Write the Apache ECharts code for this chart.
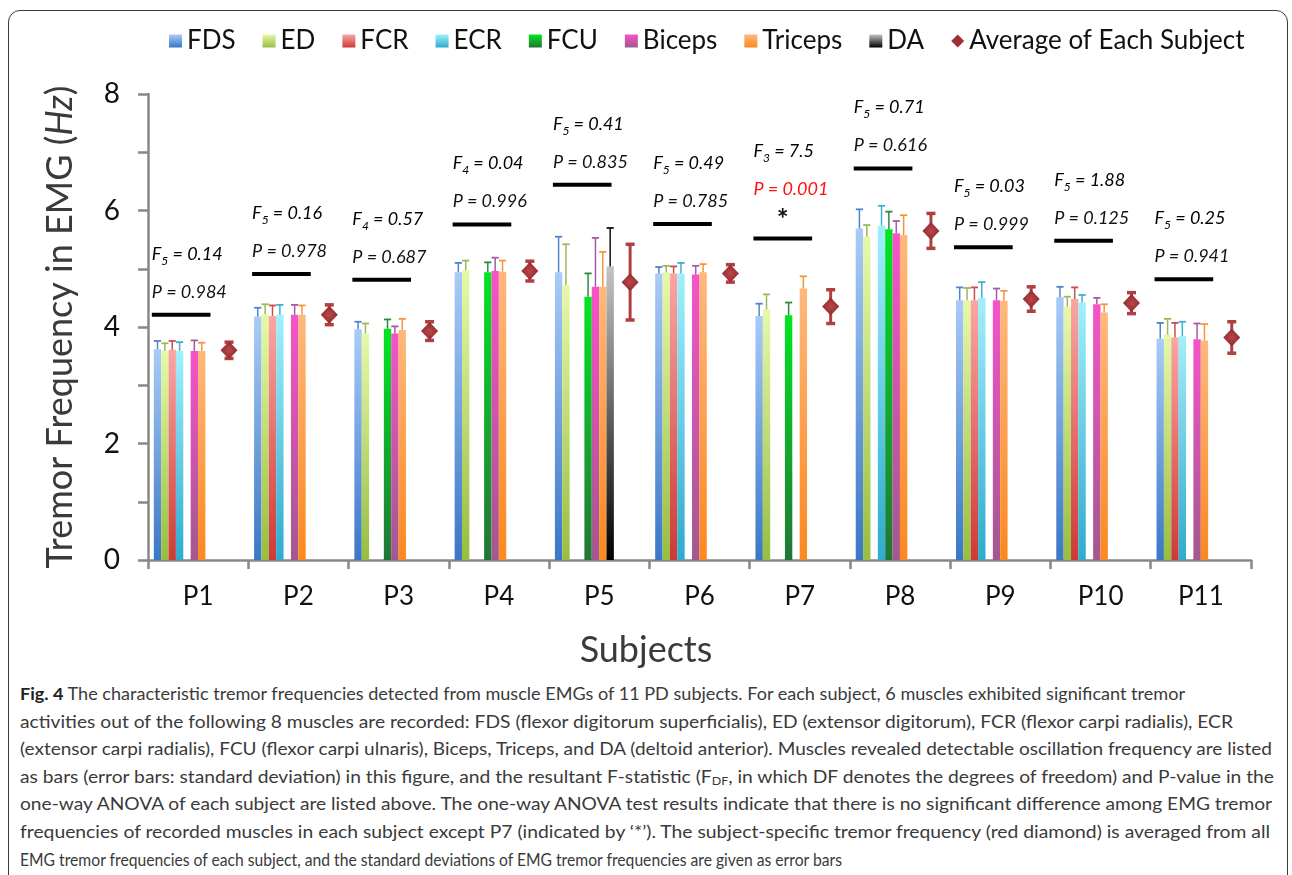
<!DOCTYPE html>
<html>
<head>
<meta charset="utf-8">
<script src="https://cdn.jsdelivr.net/npm/echarts@6/dist/echarts.min.js"></script>
<style>
  html, body { margin: 0; padding: 0; background: #fff; }
  body { width: 1292px; height: 875px; position: relative; overflow: hidden; }
  #card { position: absolute; left: 8px; top: 10px; width: 1280px; height: 920px;
          border: 1.5px solid #3a3a3a; border-radius: 12px; box-sizing: border-box; }
  #chart { position: absolute; left: 0; top: 0; width: 1292px; height: 670px; }
  #cap { position: absolute; left: 20px; top: 680px; font-family: "Liberation Sans Narrow", Lato, sans-serif;
         font-size: 17px; line-height: 27.6px; color: #3a3a3a; }
  #cap div { white-space: nowrap; transform-origin: 0 50%; }
  #cap b { color: #222; }
  #cap sub { font-size: 11px; vertical-align: -2px; line-height: 0; }
</style>
</head>
<body>
<div id="card"></div>
<div id="chart"></div>
<div id="cap">
  <div data-w="1165"><b>Fig. 4</b> The characteristic tremor frequencies detected from muscle EMGs of 11 PD subjects. For each subject, 6 muscles exhibited significant tremor</div>
  <div data-w="1213">activities out of the following 8 muscles are recorded: FDS (flexor digitorum superficialis), ED (extensor digitorum), FCR (flexor carpi radialis), ECR</div>
  <div data-w="1252">(extensor carpi radialis), FCU (flexor carpi ulnaris), Biceps, Triceps, and DA (deltoid anterior). Muscles revealed detectable oscillation frequency are listed</div>
  <div data-w="1254">as bars (error bars: standard deviation) in this figure, and the resultant F-statistic (F<sub>DF</sub>, in which DF denotes the degrees of freedom) and P-value in the</div>
  <div data-w="1252">one-way ANOVA of each subject are listed above. The one-way ANOVA test results indicate that there is no significant difference among EMG tremor</div>
  <div data-w="1250">frequencies of recorded muscles in each subject except P7 (indicated by ‘*’). The subject-specific tremor frequency (red diamond) is averaged from all</div>
  <div data-w="822">EMG tremor frequencies of each subject, and the standard deviations of EMG tremor frequencies are given as error bars</div>
</div>
<script>
// ---- data -------------------------------------------------------------
const subjects = ['P1', 'P2', 'P3', 'P4', 'P5', 'P6', 'P7', 'P8', 'P9', 'P10', 'P11'];
const muscles = ['FDS', 'ED', 'FCR', 'ECR', 'FCU', 'Biceps', 'Triceps', 'DA'];

// mean tremor frequency (Hz) per muscle, null = not detected
const meanFDS     = [3.62, 4.18, 3.96, 4.94, 4.94, 4.92, 4.19, 5.69, 4.46, 4.51, 3.80];
const meanED      = [3.59, 4.22, 3.89, 4.97, 4.72, 4.94, 4.30, 5.55, 4.46, 4.35, 3.87];
const meanFCR     = [3.61, 4.19, null, null, null, 4.92, null, null, 4.46, 4.48, 3.82];
const meanECR     = [3.59, 4.21, null, null, null, 4.92, null, 5.74, 4.50, 4.42, 3.84];
const meanFCU     = [null, null, 3.97, 4.94, 4.52, null, 4.20, 5.68, null, null, null];
const meanBiceps  = [3.59, 4.21, 3.89, 4.96, 4.69, 4.90, null, 5.61, 4.46, 4.39, 3.79];
const meanTriceps = [3.59, 4.21, 3.95, 4.95, 4.69, 4.94, 4.66, 5.58, 4.45, 4.25, 3.77];
const meanDA      = [null, null, null, null, 5.04, null, null, null, null, null, null];

// standard deviations (Hz)
const sdFDS     = [0.14, 0.15, 0.13, 0.16, 0.61, 0.11, 0.21, 0.33, 0.22, 0.18, 0.27];
const sdED      = [0.13, 0.17, 0.17, 0.17, 0.70, 0.11, 0.26, 0.20, 0.21, 0.17, 0.27];
const sdFCR     = [0.15, 0.18, null, null, null, 0.12, null, null, 0.22, 0.20, 0.25];
const sdECR     = [0.15, 0.17, null, null, null, 0.18, null, 0.34, 0.27, 0.13, 0.25];
const sdFCU     = [null, null, 0.16, 0.17, 0.40, null, 0.22, 0.30, null, null, null];
const sdBiceps  = [0.18, 0.17, 0.12, 0.23, 0.84, 0.15, null, 0.21, 0.20, 0.11, 0.27];
const sdTriceps = [0.14, 0.16, 0.19, 0.19, 0.60, 0.14, 0.21, 0.34, 0.17, 0.14, 0.28];
const sdDA      = [null, null, null, null, 0.66, null, null, null, null, null, null];

// subject-specific frequency and its spread
const subjectAvg = [3.60, 4.21, 3.93, 4.96, 4.77, 4.92, 4.35, 5.65, 4.48, 4.41, 3.82];
const subjectSd  = [0.14, 0.17, 0.16, 0.17, 0.65, 0.15, 0.29, 0.30, 0.21, 0.18, 0.27];

// one-way ANOVA per subject
const anovaDf = [5, 5, 4, 4, 5, 5, 3, 5, 5, 5, 5];
const anovaF  = ['0.14', '0.16', '0.57', '0.04', '0.41', '0.49', '7.5', '0.71', '0.03', '1.88', '0.25'];
const anovaP  = ['0.984', '0.978', '0.687', '0.996', '0.835', '0.785', '0.001', '0.616', '0.999', '0.125', '0.941'];
// height (Hz) of the bracket line drawn over each subject's group
const bracketLevel = [4.21, 4.91, 4.81, 5.76, 6.44, 5.77, 5.52, 6.72, 5.37, 5.48, 4.82];

const yTicks = [0, 2, 4, 6, 8];

// ---- styling ----------------------------------------------------------
const FONT = 'Lato, "Open Sans", sans-serif';
const means = [meanFDS, meanED, meanFCR, meanECR, meanFCU, meanBiceps, meanTriceps, meanDA];
const sds = [sdFDS, sdED, sdFCR, sdECR, sdFCU, sdBiceps, sdTriceps, sdDA];
const barTop    = ['#a9cbf8', '#e6f9ab', '#faa6a3', '#a2effc', '#00e620', '#f653c8', '#ffb87c', '#c4c4c4'];
const barBottom = ['#3a77c6', '#98bd40', '#cd3a37', '#2eabcd', '#237436', '#a2588f', '#fc8820', '#000000'];
const capColor  = ['#4e84cf', '#9ab959', '#c84f4c', '#3eafcf', '#2c8a3b', '#a65a9f', '#f7953e', '#111111'];

const SLOT = 0.0735;      // width of one muscle slot, fraction of category width
const FIRST = 0.058;      // offset of first slot from category start
const AVG_POS = 0.808;    // diamond position inside the category

function grad(k) {
  return new echarts.graphic.LinearGradient(0, 0, 0, 1, [
    { offset: 0, color: barTop[k] }, { offset: 1, color: barBottom[k] }
  ]);
}

function muscleSeries(k) {
  const data = [];
  means[k].forEach((v, i) => { if (v !== null) data.push([i, v, sds[k][i]]); });
  return {
    type: 'custom',
    name: muscles[k],
    itemStyle: { color: grad(k) },
    data: data,
    encode: { x: 0, y: 1 },
    renderItem: function (params, api) {
      const idx = api.value(0), v = api.value(1), sd = api.value(2);
      const cw = api.size([1, 0])[0];
      const base = api.coord([idx, 0]);
      const top = api.coord([idx, v]);
      const err = api.coord([idx, v + sd]);
      const w = cw * SLOT;
      const x0 = base[0] - cw / 2 + cw * FIRST + k * w;
      const cx = x0 + w / 2;
      return {
        type: 'group',
        children: [
          { type: 'rect', shape: { x: x0, y: top[1], width: w, height: base[1] - top[1] },
            style: { fill: grad(k) } },
          { type: 'line', shape: { x1: cx, y1: top[1], x2: cx, y2: err[1] },
            style: { stroke: capColor[k], lineWidth: 1.5 } },
          { type: 'line', shape: { x1: cx - 3.6, y1: err[1], x2: cx + 3.6, y2: err[1] },
            style: { stroke: capColor[k], lineWidth: 1.8 } }
        ]
      };
    }
  };
}

const avgSeries = {
  type: 'custom',
  name: 'Average of Each Subject',
  itemStyle: { color: '#9e3034' },
  data: subjectAvg.map((v, i) => [i, v, subjectSd[i]]),
  encode: { x: 0, y: 1 },
  z: 5,
  renderItem: function (params, api) {
    const idx = api.value(0), v = api.value(1), sd = api.value(2);
    const cw = api.size([1, 0])[0];
    const c = api.coord([idx, v]);
    const hi = api.coord([idx, v + sd]);
    const lo = api.coord([idx, v - sd]);
    const x = c[0] - cw / 2 + cw * AVG_POS;
    const ec = '#b23f3f';
    return {
      type: 'group',
      children: [
        { type: 'line', shape: { x1: x, y1: hi[1], x2: x, y2: lo[1] }, style: { stroke: ec, lineWidth: 3 } },
        { type: 'line', shape: { x1: x - 4.5, y1: hi[1], x2: x + 4.5, y2: hi[1] }, style: { stroke: ec, lineWidth: 3.5 } },
        { type: 'line', shape: { x1: x - 4.5, y1: lo[1], x2: x + 4.5, y2: lo[1] }, style: { stroke: ec, lineWidth: 3.5 } },
        { type: 'polygon', shape: { points: [[x, c[1] - 9], [x + 8.5, c[1]], [x, c[1] + 9], [x - 8.5, c[1]]] },
          style: { fill: new echarts.graphic.RadialGradient(0.5, 0.5, 0.6, [
            { offset: 0, color: '#b8474a' }, { offset: 1, color: '#8e2629' }]) } }
      ]
    };
  }
};

const statSeries = {
  type: 'custom',
  name: 'anova',
  silent: true,
  data: bracketLevel.map((v, i) => [i, v]),
  encode: { x: 0, y: 1 },
  z: 6,
  renderItem: function (params, api) {
    const i = params.dataIndex;
    const idx = api.value(0), lvl = api.value(1);
    const cw = api.size([1, 0])[0];
    const c = api.coord([idx, lvl]);
    const x0 = c[0] - cw / 2 + cw * FIRST - 2;
    const len = cw * 0.585;
    const sig = parseFloat(anovaP[i]) < 0.05;
    const shift = sig ? 26 : 0;
    const children = [
      { type: 'rect', shape: { x: x0, y: c[1] - 2, width: len, height: 4 }, style: { fill: '#000' } },
      { type: 'text', x: x0, y: c[1] - 23 - shift,
        style: { text: 'P = ' + anovaP[i], fill: sig ? '#ff1010' : '#111',
                 font: 'italic 18px ' + FONT, verticalAlign: 'middle', align: 'left' } },
      { type: 'text', x: x0, y: c[1] - 61 - shift,
        style: { text: '{a|F}{b|' + anovaDf[i] + '}{a| = ' + anovaF[i] + '}',
                 verticalAlign: 'middle', align: 'left',
                 rich: {
                   a: { fontSize: 18, fontStyle: 'italic', fontFamily: FONT, color: '#111', lineHeight: 26, verticalAlign: 'middle' },
                   b: { fontSize: 12, fontStyle: 'italic', fontFamily: FONT, color: '#111', verticalAlign: 'bottom' }
                 } } }
    ];
    if (sig) {
      children.push({ type: 'text', x: x0 + len / 2, y: c[1] - 18,
        style: { text: '*', fill: '#111', font: 'bold 28px ' + FONT, align: 'center', verticalAlign: 'middle' } });
    }
    return { type: 'group', children: children };
  }
};

const chart = echarts.init(document.getElementById('chart'), null, { renderer: 'canvas' });
chart.setOption({
  backgroundColor: 'transparent',
  animation: false,
  textStyle: { fontFamily: FONT },
  legend: {
    top: 23,
    left: 164,
    itemWidth: 13,
    itemHeight: 13,
    itemGap: 27,
    textStyle: { fontSize: 26, color: '#111', fontFamily: FONT },
    data: muscles.map(m => ({ name: m, icon: 'rect' })).concat([{ name: 'Average of Each Subject', icon: 'diamond' }])
  },
  grid: { left: 148, right: 41, top: 94, bottom: 670 - 560 },
  xAxis: {
    type: 'category',
    data: subjects,
    boundaryGap: true,
    axisLine: { lineStyle: { color: '#888', width: 2.5 } },
    axisTick: { show: true, length: 9, lineStyle: { color: '#888', width: 2.5 } },
    axisLabel: { fontSize: 26, color: '#111', margin: 24, fontFamily: FONT }
  },
  yAxis: {
    type: 'value',
    min: 0, max: 8, interval: 1,
    name: 'Tremor Frequency in EMG ({i|Hz})',
    nameLocation: 'middle',
    nameGap: 70,
    nameTextStyle: { fontSize: 36, color: '#3a3a3a', fontFamily: FONT,
      rich: { i: { fontSize: 36, fontStyle: 'italic', color: '#3a3a3a', fontFamily: FONT } } },
    axisLine: { show: true, lineStyle: { color: '#888', width: 2.5 } },
    axisTick: { show: true, length: 10, lineStyle: { color: '#888', width: 2.5 } },
    splitLine: { show: false },
    axisLabel: { fontSize: 28, color: '#111', margin: 28, fontFamily: FONT,
      formatter: v => (yTicks.indexOf(v) >= 0 ? String(v) : '') }
  },
  graphic: [{
    type: 'text', left: 'center', x: 0, top: 632,
    style: { text: 'Subjects', font: '36px ' + FONT, fill: '#3a3a3a' }
  }],
  series: muscles.map((m, k) => muscleSeries(k)).concat([avgSeries, statSeries])
});

// fit each caption line to its column width
(function () {
  document.querySelectorAll('#cap div').forEach(d => {
    d.style.display = 'inline-block';
    const w = d.getBoundingClientRect().width;
    d.style.display = 'block';
    const target = parseFloat(d.getAttribute('data-w'));
    if (w > 0) d.style.transform = 'scaleX(' + (target / w) + ')';
  });
})();
</script>
</body>
</html>
